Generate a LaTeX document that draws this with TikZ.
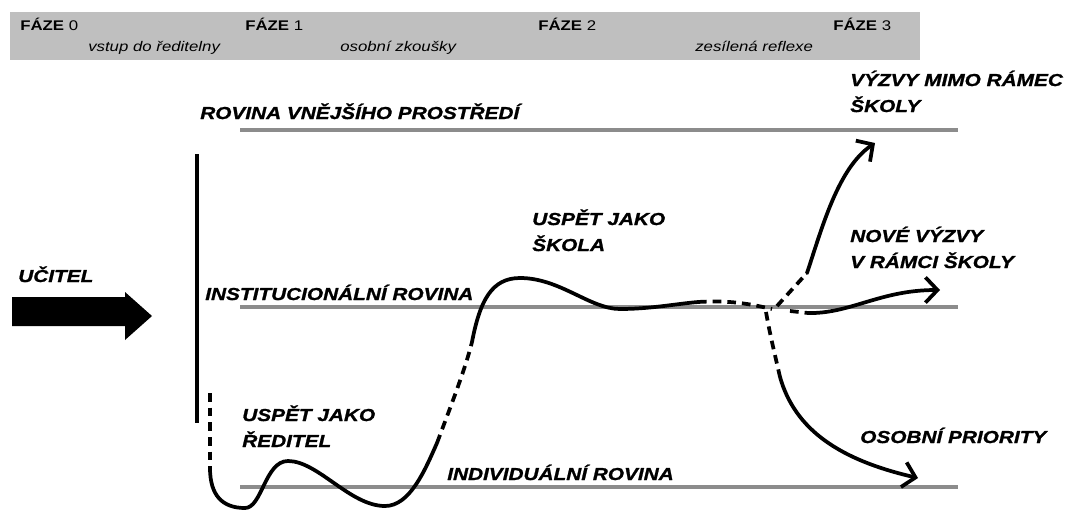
\documentclass[tikz,border=0pt]{standalone}
\usepackage{fontspec}
\newfontfamily\diagfont[FakeStretch=1.2, BoldItalicFeatures={FakeBold=1.2}]{Liberation Sans}
\usetikzlibrary{arrows.meta}
\newcommand{\faze}[1]{{\bfseries FÁZE} #1}
\tikzset{
            plane/.style={draw=black!45, line width=2.6pt},
            trail/.style={draw=black, line width=2.8pt, line cap=round},
            guess/.style={trail, line cap=butt, dash pattern=on 6.5pt off 4.5pt},
            caption/.style={anchor=base west, inner sep=0pt, align=left,
                font=\diagfont\fontsize{13}{19.5}\selectfont\bfseries\itshape},
            phase/.style={anchor=base west, inner sep=0pt,
                font=\diagfont\fontsize{10.5}{12}\selectfont},
            note/.style={phase, font=\diagfont\fontsize{10.5}{12}\selectfont\itshape}
        }

\begin{document}
\begin{tikzpicture}[
                    x=0.75pt, y=-0.75pt,
                    >={Straight Barb[length=9pt,width=19pt,line width=2.8pt]}
                    ]
                \useasboundingbox (0,0) rectangle (1067,511);
                % phase band
                \fill[black!25] (10,12) rectangle (920,60);
                \node[phase] (f0) at (20,30) {\faze{0}};
                \node[phase] (f1) at (245,30) {\faze{1}};
                \node[phase] (f2) at (538,30) {\faze{2}};
                \node[phase] (f3) at (833,30) {\faze{3}};
                \node[note] (n0) at (88,51) {vstup do ředitelny};
                \node[note] (n1) at (340,51) {osobní zkoušky};
                \node[note] (n2) at (695,51) {zesílená reflexe};
                % planes
                \coordinate (vnL) at (240,130);  \coordinate (vnR) at (958,130);
                \coordinate (inL) at (240,307);  \coordinate (inR) at (958,307);
                \coordinate (idL) at (240,487);  \coordinate (idR) at (958,487);
                \draw[plane] (vnL) -- (vnR);
                \draw[plane] (inL) -- (inR);
                \draw[plane] (idL) -- (idR);
                \node[caption] (vnejsi) at (200,119) {ROVINA VNĚJŠÍHO PROSTŘEDÍ};
                \node[caption] (instit) at (205,300) {INSTITUCIONÁLNÍ ROVINA};
                \node[caption] (indiv) at (447,480) {INDIVIDUÁLNÍ ROVINA};
                % teacher
                \coordinate (barT) at (197,154);  \coordinate (barB) at (197,423);
                \draw[trail, line cap=butt] (barT) -- (barB);
                \fill (12,297) -- (125,297) -- (125,292) -- (152,316)
                    -- (125,340) -- (125,326) -- (12,326) -- cycle;
                \node[caption] (ucitel) at (18,282) {UČITEL};
                % goals (base = last line)
                \node[caption] (reditel) at (242,447) {USPĚT JAKO\\ŘEDITEL};
                \node[caption] (skola) at (532,251) {USPĚT JAKO\\ŠKOLA};
                \node[caption] (mimo) at (850,112) {VÝZVY MIMO RÁMEC\\ŠKOLY};
                \node[caption] (nove) at (850,268) {NOVÉ VÝZVY\\V RÁMCI ŠKOLY};
                \node[caption] (osobni) at (860,443) {OSOBNÍ PRIORITY};
                % career
                \coordinate (s0) at (210,393);
                \coordinate (s1) at (210,468);
                \coordinate (s2) at (437,443);
                \coordinate (s3) at (472,342);
                \coordinate (s4) at (698,302);
                \coordinate (j) at (772,309);
                \coordinate (up0) at (777,306);   \coordinate (up1) at (807,273);
                \coordinate (upE) at (875,143);
                \coordinate (rt0) at (790,311);   \coordinate (rt1) at (808,313);
                \coordinate (rtE) at (940,290);
                \coordinate (dn0) at (766,312);   \coordinate (dn1) at (780,377);
                \coordinate (dnE) at (918,478);
                \draw[guess] (s0) -- (s1);
                \draw[trail] (s1) .. controls (210,495) and (222,508) .. (245,508)
                    .. controls (262,508) and (265,461) .. (288,461)
                    .. controls (318,461) and (350,506) .. (385,506)
                    .. controls (410,506) and (425,470) .. (s2);
                \draw[guess] (s2) .. controls (450,408) and (465,370) .. (s3);
                \draw[trail] (s3) .. controls (480,300) and (492,278) .. (520,278)
                    .. controls (560,278) and (590,309) .. (620,309)
                    .. controls (650,309) and (675,304) .. (s4);
                \draw[guess] (s4) .. controls (730,300) and (750,304) .. (j);
                % outcomes
                \draw[guess] (up0) -- (up1);
                \draw[trail, ->] (up1) .. controls (822,228) and (838,168) .. (upE);
                \draw[guess] (rt0) -- (rt1);
                \draw[trail, ->] (rt1) .. controls (850,314) and (880,290) .. (rtE);
                \draw[guess] (dn0) .. controls (770,335) and (775,355) .. (dn1);
                \draw[trail, ->] (dn1) .. controls (795,430) and (840,460) .. (dnE);
            \end{tikzpicture}
\end{document}
